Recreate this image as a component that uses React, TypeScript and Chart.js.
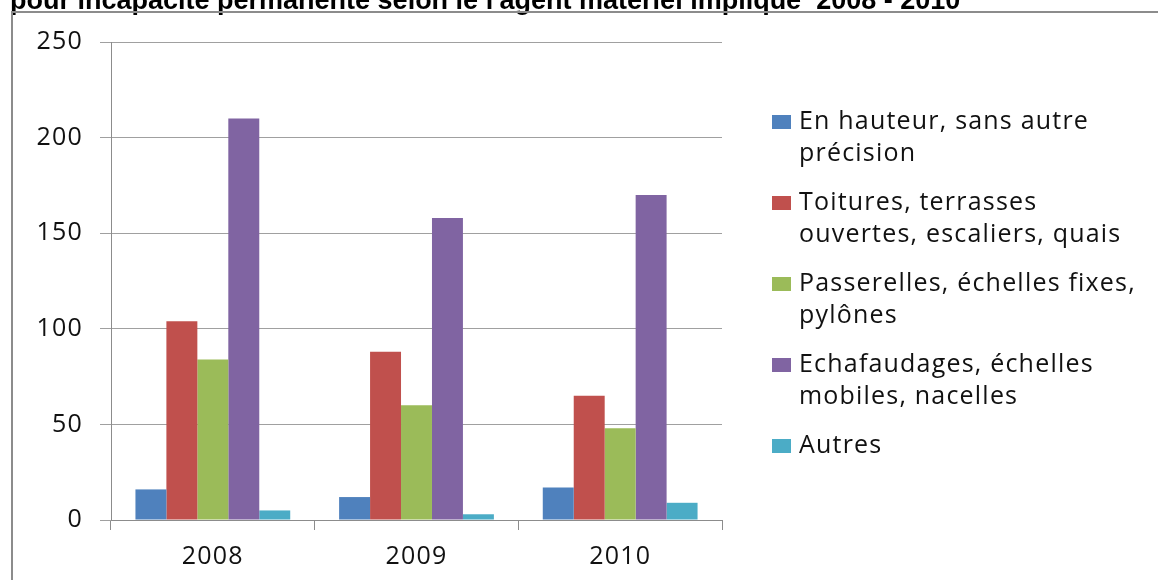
import { useEffect, useRef } from "react";
import { Chart, registerables } from "chart.js";

Chart.register(...registerables);

const TITLE = "pour incapacité permanente selon le l'agent matériel impliqué  2008 - 2010";
const YEARS = ["2008", "2009", "2010"];
const SERIES_NAMES: string[][] = [
  ["En hauteur, sans autre", "précision"],
  ["Toitures, terrasses", "ouvertes, escaliers, quais"],
  ["Passerelles, échelles fixes,", "pylônes"],
  ["Echafaudages, échelles", "mobiles, nacelles"],
  ["Autres"],
];
const EN_HAUTEUR = [16, 12, 17];
const TOITURES = [104, 88, 65];
const PASSERELLES = [84, 60, 48];
const ECHAFAUDAGES = [210, 158, 170];
const AUTRES = [5, 3, 9];
const SERIES_VALUES = [EN_HAUTEUR, TOITURES, PASSERELLES, ECHAFAUDAGES, AUTRES];
const COLORS = ["#4F81BD", "#C0504D", "#9BBB59", "#8064A2", "#4BACC6"];
const Y_MIN = 0;
const Y_MAX = 250;
const Y_STEP = 50;

const FONT_FAMILY = "'Open Sans', sans-serif";
const FONT_SIZE = 25;
const SPACING = "1.2px";
const TEXT_COLOR = "#111";

const decorPlugin = {
  id: "decor",
  beforeDraw(chart: any) {
    chart.ctx.letterSpacing = SPACING;
  },
  afterDraw(chart: any) {
    const ctx = chart.ctx as CanvasRenderingContext2D;
    ctx.save();
    // title (cut off at top)
    (ctx as any).letterSpacing = "0px";
    ctx.fillStyle = "#000";
    ctx.font = "bold 27px 'Liberation Sans', Arial, sans-serif";
    ctx.textBaseline = "alphabetic";
    ctx.textAlign = "left";
    ctx.fillText(TITLE, 10, 9, 952);
    // frame
    ctx.strokeStyle = "#8c8c8c";
    ctx.lineWidth = 2;
    ctx.beginPath();
    ctx.moveTo(12, 580);
    ctx.lineTo(12, 12);
    ctx.lineTo(1158, 12);
    ctx.stroke();
    // legend
    (ctx as any).letterSpacing = SPACING;
    ctx.font = `${FONT_SIZE}px ${FONT_FAMILY}`;
    ctx.textBaseline = "middle";
    let y = 122;
    chart.data.datasets.forEach((ds: any, i: number) => {
      const lines: string[] = SERIES_NAMES[i];
      ctx.fillStyle = ds.backgroundColor;
      ctx.fillRect(772, y - 7, 19, 14);
      ctx.fillStyle = TEXT_COLOR;
      lines.forEach((ln, k) => ctx.fillText(ln, 799, y + k * 32));
      y += lines.length * 32 + 17;
    });
    ctx.restore();
  },
};

export default function App() {
  const ref = useRef<HTMLCanvasElement | null>(null);
  useEffect(() => {
    if (!ref.current) return;
    const chart = new Chart(ref.current, {
      type: "bar",
      data: {
        labels: YEARS,
        datasets: SERIES_VALUES.map((vals, i) => ({
          label: SERIES_NAMES[i].join(" "),
          data: vals,
          backgroundColor: COLORS[i],
          borderWidth: 0,
          barPercentage: 1,
          categoryPercentage: 0.76,
        })),
      },
      options: {
        responsive: false,
        animation: false,
        devicePixelRatio: 1,
        layout: { padding: { top: 42, right: 436, bottom: 0, left: 0 } },
        plugins: {
          legend: { display: false },
          tooltip: { enabled: false },
          title: { display: false },
        },
        scales: {
          x: {
            afterFit: (s: any) => {
              s.height = 60;
            },
            grid: {
              drawOnChartArea: false,
              drawTicks: true,
              tickLength: 10,
              color: "#8c8c8c",
              offset: true,
            },
            border: { display: true, color: "#8c8c8c", width: 1 },
            ticks: {
              color: TEXT_COLOR,
              padding: 12,
              font: { family: FONT_FAMILY, size: FONT_SIZE },
            },
          },
          y: {
            min: Y_MIN,
            max: Y_MAX,
            afterFit: (s: any) => {
              s.width = 111;
            },
            grid: {
              color: "#a0a0a0",
              lineWidth: 1,
              drawTicks: true,
              tickLength: 11,
            },
            border: { display: true, color: "#8c8c8c", width: 1 },
            ticks: {
              stepSize: Y_STEP,
              color: TEXT_COLOR,
              padding: 17,
              font: { family: FONT_FAMILY, size: FONT_SIZE },
            },
          },
        },
      },
      plugins: [decorPlugin],
    });
    return () => chart.destroy();
  }, []);
  return (
    <div style={{ position: "absolute", left: 0, top: 0, width: 1158, height: 580, background: "#fff" }}>
      <canvas ref={ref} width={1158} height={580} />
    </div>
  );
}
